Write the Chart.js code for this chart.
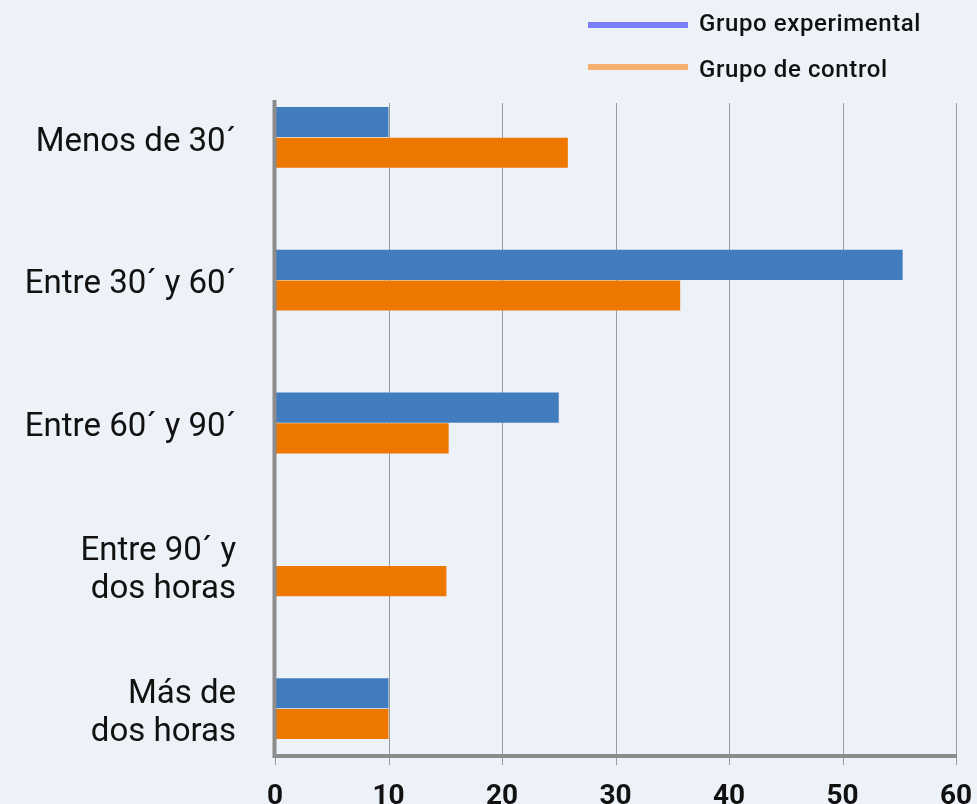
<!DOCTYPE html>
<html lang="es">
<head>
  <meta charset="UTF-8">
  <title>Grupo experimental vs control</title>
  <script src="https://cdn.jsdelivr.net/npm/chart.js"></script>
  <style>
    html, body { margin: 0; padding: 0; background: #edf1f8; overflow: hidden; }
    #wrap { position: relative; width: 977px; height: 830px; }
  </style>
</head>
<body>
  <div id="wrap">
    <canvas id="timeChart" width="977" height="830"></canvas>
  </div>

  <script>
    // datos
    const categories = [
      ['Menos de 30´'],
      ['Entre 30´ y 60´'],
      ['Entre 60´ y 90´'],
      ['Entre 90´ y', 'dos horas'],
      ['Más de', 'dos horas']
    ];
    const experimental = [10, 55.3, 25, 0, 10];
    const control = [25.8, 35.7, 15.3, 15.1, 10];
    const seriesNames = ['Grupo experimental', 'Grupo de control'];
    const xMin = 0, xMax = 60, xStep = 10;

    // ejes y rejilla al estilo del original
    const framePlugin = {
      id: 'frame',
      beforeDatasetsDraw(chart) {
        const c = chart.ctx, x = chart.scales.x;
        c.save();
        c.strokeStyle = '#9a9a9a';
        c.lineWidth = 1;
        x.ticks.forEach(t => {
          const px = Math.round(x.getPixelForValue(t.value)) + 0.5;
          c.beginPath();
          c.moveTo(px, 103);
          c.lineTo(px, 765);
          c.stroke();
        });
        c.restore();
      },
      afterDatasetsDraw(chart) {
        const c = chart.ctx, x = chart.scales.x;
        const left = x.getPixelForValue(xMin), right = x.getPixelForValue(xMax);
        c.save();
        c.strokeStyle = '#8c8c8c';
        c.lineWidth = 4;
        c.beginPath();
        c.moveTo(left - 0.5, 100);
        c.lineTo(left - 0.5, 756);
        c.lineTo(right + 1, 756);
        c.stroke();
        c.restore();

        // leyenda
        const legendColors = ['#7b7fff', '#f5ae6e'];
        c.save();
        c.font = '500 24px Roboto';
        c.letterSpacing = '0.6px';
        c.textBaseline = 'alphabetic';
        chart.data.datasets.forEach((ds, i) => {
          c.fillStyle = legendColors[i];
          c.fillRect(588, 22 + i * 42, 100, 6);
          c.fillStyle = '#111';
          c.fillText(ds.label, 699, 31 + i * 46);
        });
        c.restore();
      }
    };

    const ctx = document.getElementById('timeChart').getContext('2d');
    new Chart(ctx, {
      type: 'bar',
      data: {
        labels: categories,
        datasets: [
          { label: seriesNames[0], data: experimental, backgroundColor: '#417cbf' },
          { label: seriesNames[1], data: control, backgroundColor: '#ee7700' }
        ]
      },
      options: {
        indexAxis: 'y',
        responsive: false,
        animation: false,
        layout: { padding: { top: 66, right: 21, left: 0, bottom: 0 } },
        datasets: { bar: { categoryPercentage: 0.43, barPercentage: 0.98 } },
        plugins: { legend: { display: false }, tooltip: { enabled: false } },
        scales: {
          x: {
            min: xMin, max: xMax,
            grid: { display: false, drawTicks: false },
            border: { display: false },
            ticks: { stepSize: xStep, color: '#111', padding: 0,
                     font: { family: 'Roboto', size: 28, weight: 'bold' } },
            afterFit: s => { s.height = 50; }
          },
          y: {
            grid: { display: false, drawTicks: true, tickLength: 39, tickColor: 'transparent' },
            border: { display: false },
            ticks: { color: '#111', padding: 0, labelOffset: 5,
                     font: { family: 'Roboto', size: 33, lineHeight: 1.16 } },
            afterFit: s => { s.width = 275; }
          }
        }
      },
      plugins: [framePlugin]
    });
  </script>
</body>
</html>
